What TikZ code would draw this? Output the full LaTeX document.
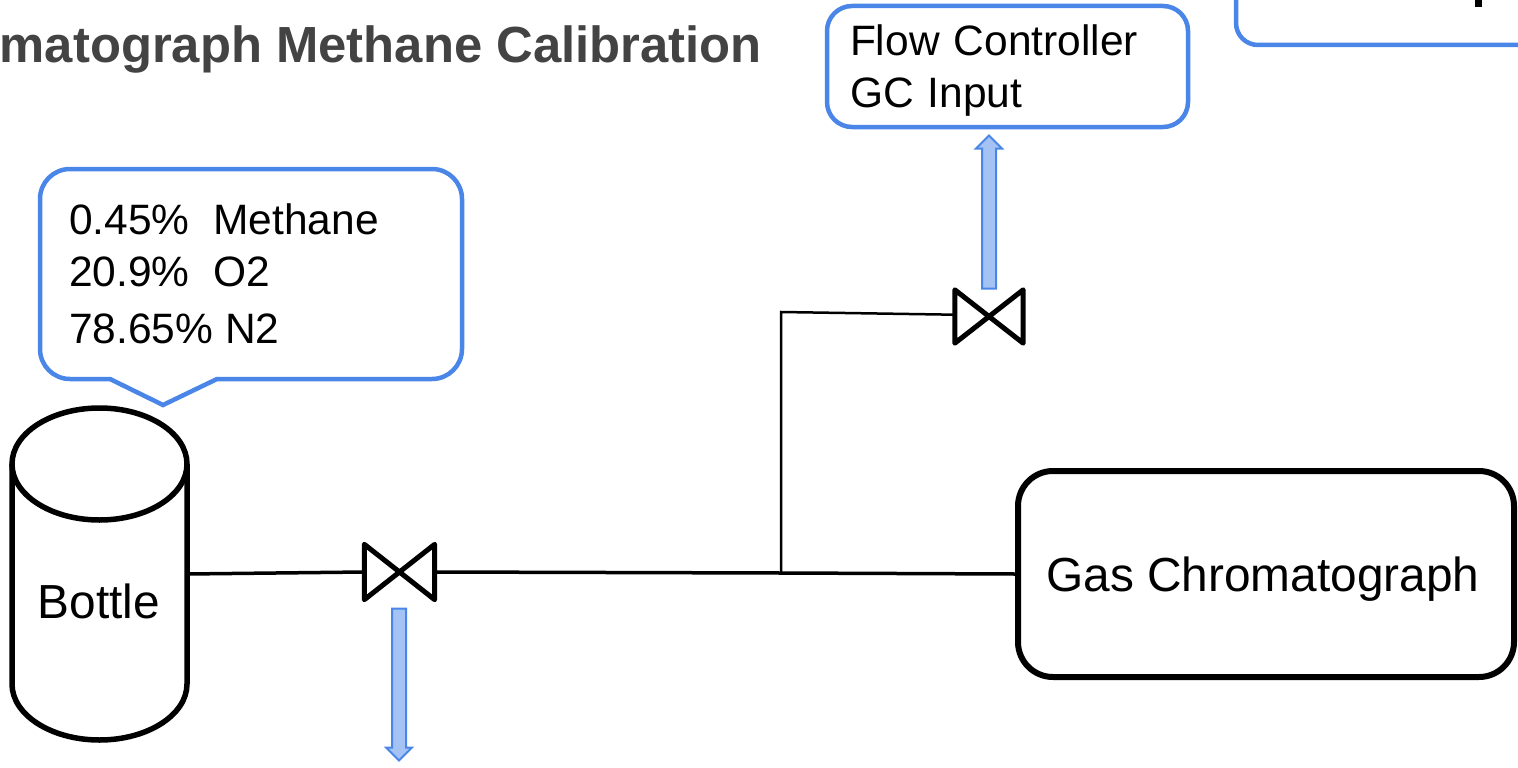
\documentclass[tikz,border=0pt]{standalone}
\usepackage{fontspec}
\setmainfont{Liberation Sans}
\usetikzlibrary{shapes.geometric,shapes.arrows}
\definecolor{boxblue}{HTML}{4A86E8}
\definecolor{arrowblue}{HTML}{A4C2F4}
\definecolor{titlegray}{HTML}{434343}
\tikzset{
    bluebox/.style={draw=boxblue, line width=4.5pt, fill=white},
    blackbox/.style={draw=black, line width=6pt, rounded corners=35pt},
    valvebox/.style 2 args={rectangle, inner sep=0pt, minimum width=#1, minimum height=#2},
    valveline/.style={draw=black, line width=5pt, line join=round},
    flowarrow/.style={single arrow, draw=boxblue, fill=arrowblue, line width=2pt, inner sep=6pt,
        minimum width=24pt, single arrow head extend=6pt, single arrow tip angle=90},
    pipe/.style={draw=black, line width=3.5pt},
    thinpipe/.style={draw=black, line width=2.5pt},
    bigtext/.style={font=\fontsize{47.8}{56}\selectfont},
    smalltext/.style={font=\fontsize{42.5}{52}\selectfont},
}
\begin{document}
\begin{tikzpicture}[x=1pt, y=-1pt]

    \path[use as bounding box, clip] (0,0) rectangle (1518,768);

    % Title and the boxes at the top
    \node[anchor=base east, inner sep=0pt, text=titlegray, font=\fontsize{50.8}{60}\selectfont\bfseries] (title) at (762,63)
        {matograph Methane Calibration};
    \node[bluebox, rectangle, rounded corners=25pt, minimum width=361pt, minimum height=121pt] (flow) at (1007.5,66.5) {};
    \node[text width=315pt, align=left, inner sep=0pt, smalltext] (flowtext) at (1007.5,70.5)
        {Flow Controller\\GC Input};
    \node[bluebox, rectangle, rounded corners=22pt, minimum width=500pt, minimum height=100pt] (cut) at (1486,-5) {};
    \node[fill=black, inner sep=0pt, minimum width=7pt, minimum height=14pt] (stem) at (1478.5,0) {};

    % Gas mixture note with its pointer
    \draw[bluebox, rounded corners=30pt] (40,169) -- (462,169) -- (462,379)
        [sharp corners] -- (217,379) -- (163,405) -- (110,379) [rounded corners=30pt] -- (40,379) -- cycle;
    \node[anchor=base west, inner sep=0pt, smalltext] (gasa) at (69,234) {0.45\%\ \ Methane};
    \node[anchor=base west, inner sep=0pt, smalltext] (gasb) at (69,286) {20.9\%\ \ O2};
    \node[anchor=base west, inner sep=0pt, smalltext] (gasc) at (69,343) {78.65\% N2};

    % Bottle, chromatograph and the junction
    \node[ellipse, draw=black, line width=5.5pt, inner sep=0pt, minimum width=175pt, minimum height=112pt] (bottletop) at (99.5,464) {};
    \coordinate (bottleleft) at (12,464);
    \coordinate (bottleright) at (187,464);
    \draw[black, line width=5.5pt] (bottleleft) -- (12,684) .. controls (12,715) and (51.5,740) .. (99.5,740)
        .. controls (147.5,740) and (187,715) .. (187,684) -- (bottleright);
    \node[inner sep=0pt, bigtext] (bottle) at (99,601) {Bottle};
    \node[blackbox, rectangle, minimum width=496pt, minimum height=206pt, inner sep=0pt, bigtext, text depth=0pt] (gc) at (1266,574)
        {Gas Chromatograph\hspace*{6pt}};
    \coordinate (start) at (187,574);
    \coordinate (branch) at (781,573);
    \coordinate (corner) at (781,312);

    % Valves
    \node[valvebox={70pt}{55pt}] (V1) at (399.5,572) {};
    \node[valvebox={68pt}{53pt}] (V2) at (989,316.5) {};
    \foreach \v in {V1,V2} {
        \draw[valveline] (\v.north west) -- (\v.south east) -- (\v.north east) -- (\v.south west) -- cycle;
    }

    % Pipes
    \draw[pipe] (start) -- (V1.west);
    \draw[pipe] (V1.east) -- (branch) -- (gc.west);
    \draw[thinpipe] (branch) -- (corner) -- (V2.177);

    % Flow arrows
    \node[flowarrow, minimum height=152pt, shape border rotate=270] (out) at (399,681) {};
    \node[flowarrow, minimum height=153pt, shape border rotate=90] (in) at (989,215.5) {};

\end{tikzpicture}
\end{document}
